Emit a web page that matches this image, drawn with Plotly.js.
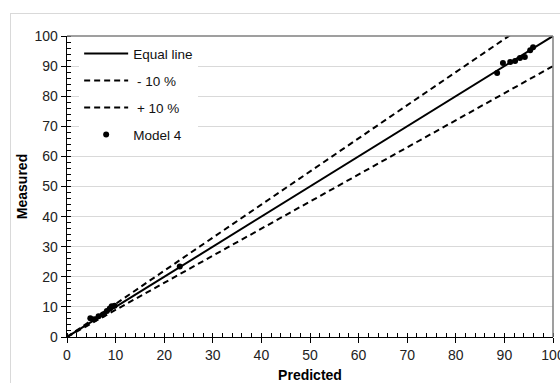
<!DOCTYPE html>
<html>
<head>
<meta charset="utf-8">
<script src="https://cdn.plot.ly/plotly-3.0.1.min.js"></script>
<style>
  html, body { margin: 0; padding: 0; background: #fff; }
  #frame { position: absolute; left: 10px; top: 13px; width: 600px; height: 420px; border: 1px solid #d9d9d9; }
  #chart { position: absolute; left: 0; top: 0; width: 560px; height: 383px; }
</style>
</head>
<body>
<div id="frame"></div>
<div id="chart"></div>
<script>
// Reference lines: equality and ±10 % bands
const lineX = [0, 100];
const equalY = [0, 100];
const minus10Y = [0, 90];
const plus10Y = [0, 110];

// Model 4: predicted vs. measured
const predicted = [4.8, 5.6, 6.5, 7.4, 8.2, 8.8, 9.2, 9.8, 23.2, 88.5, 89.7, 91.2, 92.2, 93.2, 94.2, 95.3, 95.9];
const measured  = [6.2, 5.9, 6.9, 7.5, 8.6, 9.5, 10.2, 10.4, 23.4, 87.7, 91.0, 91.4, 91.7, 92.7, 93.0, 95.3, 96.3];

const traces = [
  { x: lineX, y: equalY, mode: 'lines', name: 'Equal line', legendgroup: 'a',
    line: { color: '#000', width: 2 } },
  { x: lineX, y: minus10Y, mode: 'lines', name: ' - 10 %', legendgroup: 'b',
    line: { color: '#000', width: 2, dash: '6px,4px' } },
  { x: lineX, y: plus10Y, mode: 'lines', name: ' + 10 %', legendgroup: 'c',
    line: { color: '#000', width: 2, dash: '6px,4px' } },
  { x: predicted, y: measured, mode: 'markers', name: 'Model 4', legendgroup: 'd',
    marker: { color: '#000', size: 6 } }
];

const family = 'Liberation Sans, Arial, sans-serif';
const axisFont = { family: family, size: 14, color: '#222' };
const titleFont = { family: family, size: 14, color: '#000', weight: 'bold' };

const layout = {
  width: 560, height: 383,
  margin: { l: 67, r: 7, t: 36, b: 46 },
  paper_bgcolor: 'rgba(0,0,0,0)',
  plot_bgcolor: '#fff',
  font: axisFont,
  showlegend: true,
  legend: {
    x: 0.025, y: 0.993, xanchor: 'left', yanchor: 'top',
    bgcolor: '#fff',
    font: { family: family, size: 13.5, color: '#111' },
    itemwidth: 44,
    traceorder: 'grouped', tracegroupgap: 6.5
  },
  xaxis: {
    range: [0, 100], dtick: 10, tick0: 0,
    showgrid: false, zeroline: false,
    showline: true, linecolor: '#000', linewidth: 1.3,
    ticks: 'outside', ticklen: 5, tickcolor: '#000', tickwidth: 1,
    minor: { dtick: 2, ticks: 'inside', ticklen: 4, tickcolor: '#000', showgrid: false },
    tickfont: axisFont, ticklabeloverflow: 'allow',
    title: { text: 'Predicted', font: titleFont, standoff: 10 }
  },
  yaxis: {
    range: [0, 100], dtick: 10, tick0: 0,
    showgrid: true, gridcolor: '#d9d9d9', gridwidth: 1, zeroline: false,
    showline: true, linecolor: '#000', linewidth: 1.3,
    ticks: 'outside', ticklen: 5, tickcolor: '#000', tickwidth: 1,
    minor: { dtick: 2, ticks: 'inside', ticklen: 4, tickcolor: '#000', showgrid: false },
    tickfont: axisFont, ticklabeloverflow: 'allow',
    title: { text: 'Measured', font: titleFont, standoff: 3 }
  },
  shapes: [
    { type: 'line', xref: 'paper', yref: 'paper', x0: 0, x1: 1, y0: 1, y1: 1,
      line: { color: '#7f7f7f', width: 1.5 }, layer: 'above' },
    { type: 'line', xref: 'paper', yref: 'paper', x0: 1, x1: 1, y0: 0, y1: 1,
      line: { color: '#7f7f7f', width: 1.5 }, layer: 'above' }
  ]
};

Plotly.newPlot('chart', traces, layout, { staticPlot: true, displayModeBar: false });
</script>
</body>
</html>
